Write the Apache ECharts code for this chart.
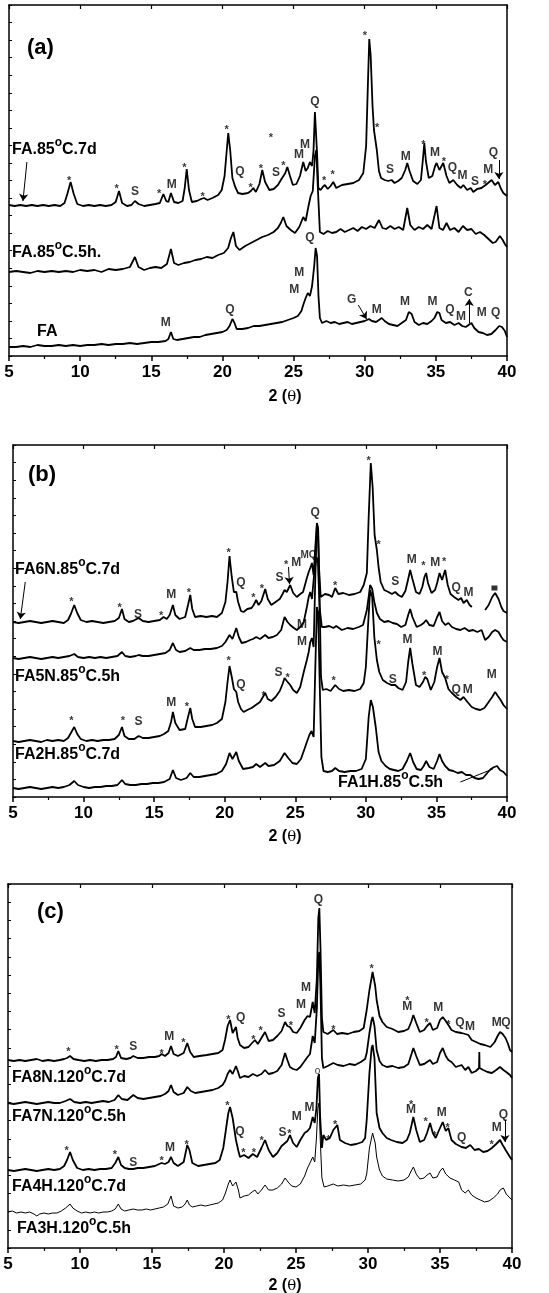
<!DOCTYPE html>
<html><head><meta charset="utf-8">
<script src="https://cdn.jsdelivr.net/npm/echarts/dist/echarts.min.js"></script>
<style>html,body{margin:0;padding:0;background:#fff}#c{width:549px;height:1293px}</style>
</head><body><div id="c"></div>
<script>
// ---------- tick labels ----------
const X_TICKS = [5,10,15,20,25,30,35,40];
const PANEL_TAGS = ['(a)','(b)','(c)'];
const X_NAME = '2 ({t|θ})';
const NAMES_A = ['FA.85{s|o}C.7d','FA.85{s|o}C.5h.','FA'];
const NAMES_B = ['FA6N.85{s|o}C.7d','FA5N.85{s|o}C.5h','FA2H.85{s|o}C.7d','FA1H.85{s|o}C.5h'];
const NAMES_C = ['FA8N.120{s|o}C.7d','FA7N.120{s|o}C.5h','FA4H.120{s|o}C.7d','FA3H.120{s|o}C.5h'];

// ---------- panel (a) ----------
const A_7d = [[5.0,151],[5.4,150],[5.8,151],[6.2,150],[6.6,151],[7.0,150],[7.4,151],[7.8,150],[8.2,151],[8.6,150],[8.9,153],[9.1,162],[9.33,174],[9.55,162],[9.8,152],[10.2,150],[10.6,151],[11.0,150],[11.4,151],[11.8,150],[12.2,151],[12.5,154],[12.73,165],[12.95,153],[13.3,150],[13.6,151],[13.85,155],[14.1,152],[14.5,150],[14.9,151],[15.3,152],[15.6,153],[15.85,162],[16.05,155],[16.2,154],[16.38,163],[16.6,154],[16.9,153],[17.2,155],[17.35,168],[17.49,187],[17.65,166],[17.85,154],[18.2,155],[18.5,157],[18.7,158],[18.95,156],[19.3,158],[19.7,161],[19.95,166],[20.15,180],[20.3,205],[20.41,223],[20.55,205],[20.7,178],[20.77,176],[20.9,169],[21.1,163],[21.4,162],[21.8,163],[22.0,165],[22.17,168],[22.35,164],[22.6,172],[22.8,186],[23.0,174],[23.3,166],[23.6,167],[23.9,171],[24.15,177],[24.28,179],[24.42,183],[24.56,189],[24.75,180],[24.95,171],[25.2,172],[25.45,180],[25.68,194],[25.85,185],[26.0,188],[26.15,194],[26.3,190],[26.4,205],[26.5,244],[26.58,242],[26.66,200],[26.74,168],[26.9,166],[27.05,169],[27.2,171],[27.4,167],[27.6,170],[27.79,174],[28.0,168],[28.4,171],[28.8,172],[29.2,173],[29.6,176],[29.9,183],[30.1,210],[30.22,270],[30.32,317],[30.42,300],[30.55,250],[30.65,226],[30.72,224],[30.85,206],[31.0,185],[31.15,178],[31.4,176],[31.65,175],[31.89,176],[32.1,173],[32.35,175],[32.6,178],[32.85,186],[32.99,193],[33.15,185],[33.4,175],[33.7,172],[33.95,176],[34.08,195],[34.19,213],[34.3,195],[34.5,178],[34.75,180],[34.95,190],[35.05,193],[35.25,186],[35.52,193],[35.75,180],[35.95,173],[36.22,176],[36.5,171],[36.75,168],[36.93,171],[37.2,166],[37.45,168],[37.63,164],[37.9,167],[38.2,168],[38.5,171],[38.75,174],[38.92,176],[39.15,171],[39.39,174],[39.55,168],[39.74,163],[40.0,160]];
const A_5h = [[5.0,84],[5.5,85],[6.0,84],[6.5,83],[7.0,85],[7.5,84],[8.0,85],[8.5,84],[9.0,85],[9.5,84],[10.0,86],[10.5,85],[11.0,86],[11.5,84],[12.0,87],[12.5,86],[13.0,87],[13.5,89],[13.85,99],[14.1,89],[14.5,86],[14.9,88],[15.3,89],[15.7,88],[16.1,92],[16.38,107],[16.6,93],[16.9,91],[17.3,93],[17.7,94],[18.1,96],[18.5,97],[18.9,99],[19.3,98],[19.7,101],[20.1,103],[20.4,108],[20.6,118],[20.77,124],[20.95,110],[21.2,106],[21.6,110],[22.0,113],[22.4,116],[22.8,119],[23.2,121],[23.6,124],[23.9,128],[24.1,133],[24.28,139],[24.5,130],[24.8,126],[25.1,123],[25.4,129],[25.68,139],[25.85,135],[26.05,150],[26.2,160],[26.35,165],[26.5,200],[26.6,206],[26.7,170],[26.85,124],[27.1,122],[27.4,125],[27.7,123],[28.0,124],[28.3,127],[28.6,124],[28.9,126],[29.2,128],[29.5,125],[29.8,129],[30.1,127],[30.4,130],[30.7,128],[31.0,136],[31.25,128],[31.5,127],[31.8,130],[32.1,127],[32.4,129],[32.7,126],[32.99,148],[33.2,131],[33.5,126],[33.8,129],[34.1,127],[34.4,131],[34.7,127],[35.05,150],[35.25,128],[35.5,126],[35.75,133],[36.0,126],[36.3,128],[36.6,124],[36.9,130],[37.2,126],[37.5,127],[37.8,122],[38.1,124],[38.4,121],[38.7,117],[39.0,113],[39.2,114],[39.5,120],[39.7,116],[39.85,112],[40.0,109]];
const A_FA = [[5.0,9],[5.5,9],[6.0,10],[6.5,9],[7.0,11],[7.5,10],[8.0,10],[8.5,11],[9.0,10],[9.5,11],[10.0,10],[10.5,11],[11.0,11],[11.5,12],[12.0,11],[12.5,12],[13.0,12],[13.5,13],[14.0,12],[14.5,13],[15.0,14],[15.5,14],[16.0,15],[16.2,17],[16.38,24],[16.55,17],[16.8,16],[17.2,17],[17.6,18],[18.0,19],[18.4,19],[18.8,21],[19.2,22],[19.6,23],[20.0,24],[20.3,26],[20.5,30],[20.7,37],[20.85,33],[21.0,27],[21.4,27],[21.8,28],[22.2,30],[22.6,30],[23.0,31],[23.4,32],[23.8,33],[24.2,34],[24.6,36],[25.0,38],[25.3,40],[25.55,45],[25.7,52],[25.85,58],[26.0,63],[26.15,60],[26.3,70],[26.45,90],[26.55,108],[26.65,100],[26.75,60],[26.85,38],[27.0,33],[27.3,35],[27.6,33],[27.9,34],[28.2,32],[28.5,33],[28.8,34],[29.1,32],[29.4,33],[29.7,34],[30.0,35],[30.3,37],[30.5,35],[30.8,34],[31.0,36],[31.2,38],[31.4,35],[31.7,32],[32.0,31],[32.3,30],[32.6,33],[32.9,36],[33.1,44],[33.3,42],[33.5,34],[33.8,31],[34.1,33],[34.4,32],[34.7,35],[34.9,38],[35.1,44],[35.25,43],[35.4,36],[35.7,33],[36.0,34],[36.3,31],[36.6,33],[36.85,30],[37.1,29],[37.3,31],[37.5,33],[37.7,28],[38.0,24],[38.3,23],[38.6,21],[38.9,22],[39.2,26],[39.45,30],[39.65,29],[39.85,25],[40.0,19]];
const A_NOTES = [[9.22,178,'*'],[12.57,170,'*'],[13.85,164,'S'],[15.56,165,'*'],[16.43,171,'M'],[17.32,191,'*'],[18.61,162,'*'],[20.3,229,'*'],[21.23,184,'Q'],[23.41,221,'*'],[21.98,171,'*'],[22.71,190,'*'],[23.76,183,'S'],[24.28,193,'*'],[25.38,201,'M'],[25.8,211,'M'],[26.5,254,'Q'],[30.02,323,'*'],[30.88,231,'*'],[27.14,178,'*'],[27.75,184,'*'],[31.77,186,'S'],[32.88,199,'M'],[34.12,214,'*'],[34.94,203,'M'],[35.57,197,'*'],[36.16,188,'Q'],[36.88,180,'M'],[37.75,174,'S'],[38.45,174,'*'],[38.68,186,'M'],[39.04,203,'Q'],
  [16.01,33,'M'],[20.53,46,'Q'],[26.15,118,'Q'],[25.05,66,'M'],[25.4,83,'M'],[29.08,56,'G'],[30.84,46,'M'],[32.83,54,'M'],[34.77,54,'M'],[35.99,46,'Q'],[36.76,39,'M'],[37.28,63,'C'],[38.22,43,'M'],[39.2,43,'Q']];
const A_ARROWS = [[6.26,194,5.98,155],[39.43,196,39.43,177],[29.55,51,30.13,37],[37.35,33,37.35,57]];

// ---------- panel (b) ----------
const B_6N = [[5.0,175],[5.4,174],[5.8,175],[6.2,176],[6.6,175],[7.0,174],[7.4,175],[7.8,176],[8.2,175],[8.6,174],[8.9,177],[9.1,183],[9.34,192],[9.55,184],[9.8,177],[10.2,175],[10.6,176],[11.0,175],[11.4,174],[11.8,175],[12.2,176],[12.5,179],[12.72,188],[12.9,178],[13.2,175],[13.5,176],[13.9,179],[14.2,176],[14.6,175],[15.0,176],[15.4,177],[15.67,180],[15.9,178],[16.1,182],[16.33,192],[16.5,182],[16.8,178],[17.2,180],[17.4,192],[17.56,202],[17.7,188],[17.9,180],[18.3,181],[18.7,180],[19.1,181],[19.45,180],[19.8,184],[20.05,195],[20.2,215],[20.34,241],[20.5,220],[20.65,205],[20.82,205],[20.95,195],[21.15,186],[21.34,185],[21.6,188],[21.9,189],[22.05,192],[22.23,197],[22.4,192],[22.6,196],[22.87,208],[23.05,198],[23.3,192],[23.6,195],[23.9,198],[24.1,203],[24.24,207],[24.4,205],[24.64,212],[24.85,204],[25.11,200],[25.35,203],[25.55,205],[25.82,219],[25.95,225],[26.06,229],[26.18,234],[26.3,222],[26.42,250],[26.53,274],[26.6,270],[26.68,230],[26.8,200],[26.88,200],[27.1,203],[27.4,202],[27.6,200],[27.83,209],[28.05,203],[28.4,204],[28.8,202],[29.2,203],[29.6,205],[29.85,212],[30.07,224],[30.2,280],[30.35,334],[30.48,310],[30.62,262],[30.78,247],[30.9,230],[31.05,215],[31.3,207],[31.6,205],[31.85,203],[32.08,205],[32.3,202],[32.55,200],[32.8,206],[33.0,218],[33.14,227],[33.3,218],[33.55,205],[33.8,203],[34.0,210],[34.15,220],[34.27,224],[34.4,214],[34.65,204],[34.9,207],[35.05,214],[35.22,224],[35.4,217],[35.62,227],[35.8,212],[36.0,203],[36.25,200],[36.56,197],[36.75,199],[36.92,194],[37.15,197],[37.35,192],[37.51,190],[37.9,'-'],[38.45,187],[38.7,192],[38.95,200],[39.16,204],[39.4,198],[39.6,190],[39.75,186],[40.0,184]];
const B_5N = [[5.0,139],[5.4,138],[5.8,139],[6.2,140],[6.6,139],[7.0,138],[7.4,139],[7.8,140],[8.2,139],[8.6,140],[9.0,141],[9.34,143],[9.6,140],[10.0,139],[10.4,140],[10.8,139],[11.2,140],[11.6,139],[12.0,140],[12.4,141],[12.72,145],[12.95,141],[13.3,140],[13.7,141],[13.9,142],[14.2,141],[14.6,141],[15.0,142],[15.4,143],[15.8,144],[16.1,147],[16.33,154],[16.55,147],[16.8,145],[17.2,146],[17.56,149],[17.8,147],[18.2,147],[18.6,148],[19.0,148],[19.45,149],[19.8,151],[20.05,155],[20.34,162],[20.55,158],[20.82,169],[21.0,160],[21.2,154],[21.5,155],[21.8,157],[22.0,158],[22.23,160],[22.5,158],[22.87,162],[23.1,159],[23.4,160],[23.7,162],[24.0,167],[24.24,180],[24.45,175],[24.64,172],[24.9,169],[25.11,167],[25.35,170],[25.6,175],[25.82,190],[25.95,200],[26.06,205],[26.18,198],[26.35,225],[26.5,240],[26.6,236],[26.72,190],[26.88,170],[27.1,170],[27.4,171],[27.7,169],[27.9,171],[28.3,167],[28.7,169],[29.1,168],[29.5,170],[29.8,172],[30.07,187],[30.2,200],[30.3,212],[30.45,208],[30.6,195],[30.78,184],[31.0,178],[31.3,175],[31.6,176],[31.9,174],[32.2,173],[32.5,170],[32.8,172],[33.0,182],[33.14,188],[33.3,180],[33.6,170],[33.9,172],[34.1,174],[34.27,177],[34.5,172],[34.8,171],[35.05,180],[35.22,185],[35.4,176],[35.62,172],[35.85,174],[36.1,170],[36.4,168],[36.7,167],[37.0,169],[37.3,166],[37.6,167],[37.9,165],[38.2,167],[38.45,157],[38.7,160],[38.95,165],[39.16,167],[39.4,165],[39.6,160],[39.75,157],[40.0,155]];
const B_2H = [[5.0,56],[5.4,55],[5.8,56],[6.2,57],[6.6,56],[7.0,55],[7.4,57],[7.8,56],[8.2,57],[8.6,56],[8.9,59],[9.1,64],[9.34,70],[9.55,63],[9.8,58],[10.2,56],[10.6,57],[11.0,56],[11.4,57],[11.8,57],[12.2,58],[12.5,62],[12.72,70],[12.9,61],[13.2,58],[13.6,58],[13.9,61],[14.2,59],[14.6,59],[15.0,60],[15.4,61],[15.7,63],[16.0,66],[16.2,75],[16.33,85],[16.5,74],[16.8,67],[17.2,68],[17.4,80],[17.56,89],[17.7,78],[17.9,70],[18.3,70],[18.7,71],[19.1,72],[19.45,74],[19.8,78],[20.05,95],[20.2,115],[20.34,131],[20.5,120],[20.65,108],[20.82,105],[20.95,95],[21.15,88],[21.34,85],[21.6,87],[21.9,89],[22.2,92],[22.5,95],[22.87,104],[23.05,98],[23.3,96],[23.6,100],[23.9,106],[24.1,113],[24.24,119],[24.4,116],[24.64,112],[24.85,107],[25.11,104],[25.35,110],[25.6,125],[25.82,137],[25.95,145],[26.06,155],[26.18,159],[26.3,150],[26.42,220],[26.53,272],[26.62,268],[26.72,200],[26.82,120],[26.95,107],[27.2,108],[27.5,106],[27.83,112],[28.1,108],[28.4,106],[28.8,107],[29.2,106],[29.6,108],[29.85,114],[30.0,130],[30.15,170],[30.3,207],[30.45,200],[30.6,160],[30.78,137],[30.95,125],[31.2,117],[31.5,114],[31.8,112],[32.08,112],[32.3,109],[32.6,107],[32.85,115],[33.0,135],[33.14,149],[33.3,133],[33.55,112],[33.8,110],[34.05,115],[34.2,120],[34.35,118],[34.6,107],[34.85,115],[35.05,130],[35.22,139],[35.4,125],[35.62,119],[35.85,108],[36.1,104],[36.4,100],[36.7,97],[36.92,100],[37.2,95],[37.5,90],[37.8,88],[38.1,87],[38.4,89],[38.7,95],[38.95,100],[39.16,105],[39.35,101],[39.55,97],[39.75,92],[40.0,88]];
const B_1H = [[5.0,9],[5.4,8],[5.8,9],[6.2,10],[6.6,9],[7.0,8],[7.4,9],[7.8,10],[8.2,9],[8.6,10],[9.0,12],[9.34,16],[9.6,12],[10.0,10],[10.4,9],[10.8,10],[11.2,10],[11.6,11],[12.0,11],[12.4,12],[12.72,17],[12.95,13],[13.3,12],[13.7,12],[14.1,13],[14.5,13],[14.9,14],[15.3,14],[15.7,15],[16.1,18],[16.33,27],[16.55,19],[16.9,17],[17.3,19],[17.56,24],[17.8,20],[18.2,20],[18.6,21],[19.0,22],[19.4,23],[19.8,26],[20.1,33],[20.34,44],[20.55,38],[20.82,45],[21.0,36],[21.3,28],[21.7,29],[22.0,30],[22.23,33],[22.5,30],[22.87,34],[23.1,31],[23.5,32],[23.9,36],[24.24,44],[24.5,39],[24.8,34],[25.11,33],[25.4,38],[25.65,48],[25.82,55],[26.0,62],[26.15,66],[26.3,60],[26.42,130],[26.53,190],[26.62,185],[26.72,120],[26.85,40],[27.0,26],[27.3,25],[27.6,26],[27.83,29],[28.1,26],[28.5,25],[28.9,26],[29.3,26],[29.7,28],[30.0,38],[30.2,80],[30.35,97],[30.5,90],[30.7,70],[30.9,45],[31.1,36],[31.4,31],[31.7,28],[32.0,27],[32.3,26],[32.6,28],[32.9,36],[33.14,44],[33.35,35],[33.6,28],[33.9,27],[34.1,31],[34.27,36],[34.5,30],[34.8,28],[35.05,36],[35.22,43],[35.4,36],[35.62,31],[35.9,27],[36.2,26],[36.5,24],[36.8,25],[37.1,22],[37.4,22],[37.7,19],[38.0,18],[38.3,19],[38.6,24],[38.85,28],[39.1,30],[39.3,31],[39.5,27],[39.75,25],[40.0,21]];
const B_NOTES = [[9.13,198,'*'],[12.55,192,'*'],[13.85,182,'S'],[15.5,184,'*'],[16.21,202,'M'],[17.46,207,'*'],[20.27,247,'*'],[21.15,214,'Q'],[22.04,202,'*'],[22.63,211,'*'],[23.89,219,'S'],[24.36,235,'*'],[25.07,234,'M'],[25.94,242,'MQ'],[26.41,284,'Q'],[30.19,339,'*'],[30.9,255,'*'],[27.83,214,'*'],[32.08,215,'S'],[33.26,237,'M'],[34.08,234,'*'],[34.91,234,'M'],[35.55,238,'*'],[36.4,209,'Q'],[37.27,204,'M'],
  [25.47,172,'M'],
  [9.13,79,'*'],[12.79,79,'*'],[13.9,75,'S'],[16.21,94,'M'],[17.32,93,'*'],[20.27,139,'*'],[21.15,112,'Q'],[22.75,104,'*'],[23.81,124,'S'],[24.45,122,'*'],[25.47,155,'M'],[27.71,119,'*'],[30.9,155,'*'],[31.91,117,'S'],[32.95,157,'M'],[34.13,124,'*'],[35.08,145,'M'],[35.74,120,'*'],[36.4,107,'Q'],[37.22,107,'M'],[38.92,122,'M']];
const B_ARROWS = [[5.87,215,5.52,178],[24.52,230,24.59,213]];
const B_POINTER = [[36.7,15,39.0,28]];
const B_SQUARE = [[39.11,209]];

// ---------- panel (c) ----------
const C_8N = [[5.0,188],[5.4,187],[5.8,188],[6.2,187],[6.6,188],[7.0,189],[7.4,187],[7.8,188],[8.2,187],[8.6,188],[8.9,189],[9.1,190],[9.31,192],[9.55,189],[9.9,188],[10.3,187],[10.7,188],[11.1,187],[11.5,188],[11.9,188],[12.3,189],[12.5,191],[12.66,197],[12.85,190],[13.2,189],[13.5,190],[13.7,192],[14.0,190],[14.4,190],[14.8,191],[15.2,191],[15.5,192],[15.67,194],[15.9,192],[16.15,195],[16.32,202],[16.5,194],[16.8,192],[17.2,195],[17.45,205],[17.65,196],[17.9,191],[18.3,192],[18.8,193],[19.2,194],[19.6,195],[19.9,198],[20.07,208],[20.25,222],[20.42,228],[20.6,215],[20.83,221],[20.95,210],[21.11,203],[21.4,200],[21.7,201],[21.95,205],[22.15,208],[22.35,204],[22.6,210],[22.85,216],[23.1,207],[23.4,208],[23.7,212],[24.0,217],[24.24,226],[24.4,222],[24.58,221],[24.8,216],[25.05,215],[25.3,220],[25.6,228],[25.8,232],[25.97,231],[26.16,246],[26.3,235],[26.45,270],[26.55,330],[26.62,340],[26.7,300],[26.8,230],[26.9,216],[27.2,214],[27.59,218],[27.85,214],[28.2,215],[28.6,214],[29.0,216],[29.4,217],[29.7,220],[29.91,238],[30.1,258],[30.32,276],[30.5,262],[30.6,248],[30.8,232],[31.0,226],[31.3,221],[31.7,219],[32.1,216],[32.5,217],[32.8,219],[33.0,226],[33.15,233],[33.35,225],[33.6,216],[33.9,218],[34.1,222],[34.31,225],[34.5,218],[34.8,220],[35.0,228],[35.19,231],[35.4,227],[35.58,223],[35.8,218],[36.1,216],[36.5,215],[36.75,214],[36.97,213],[37.2,208],[37.5,206],[37.8,204],[38.1,203],[38.5,201],[38.8,206],[39.0,212],[39.17,216],[39.35,214],[39.55,210],[39.7,205],[39.86,198],[40.0,196]];
const C_7N = [[5.0,145],[5.4,144],[5.8,145],[6.2,146],[6.6,145],[7.0,144],[7.4,145],[7.8,146],[8.2,145],[8.6,145],[9.0,147],[9.31,149],[9.6,146],[10.0,145],[10.4,146],[10.8,145],[11.2,146],[11.6,147],[12.0,146],[12.4,148],[12.66,153],[12.9,149],[13.3,148],[13.7,153],[14.0,150],[14.4,149],[14.8,150],[15.2,151],[15.6,152],[15.9,154],[16.15,157],[16.32,163],[16.5,156],[16.8,153],[17.2,155],[17.45,161],[17.7,157],[18.0,155],[18.4,156],[18.8,157],[19.2,158],[19.6,160],[19.9,163],[20.07,167],[20.25,174],[20.42,178],[20.6,174],[20.83,182],[20.98,176],[21.11,170],[21.4,172],[21.7,171],[22.0,174],[22.3,172],[22.6,174],[22.85,178],[23.1,174],[23.4,175],[23.7,177],[24.0,183],[24.24,195],[24.4,188],[24.58,181],[24.8,179],[25.05,178],[25.3,181],[25.6,187],[25.8,191],[25.97,194],[26.16,212],[26.3,205],[26.45,240],[26.55,290],[26.62,296],[26.7,260],[26.8,190],[26.9,180],[27.2,182],[27.59,185],[27.9,183],[28.3,182],[28.7,184],[29.1,183],[29.5,186],[29.8,189],[29.91,195],[30.1,215],[30.25,228],[30.32,231],[30.45,222],[30.6,198],[30.8,187],[31.0,183],[31.3,181],[31.7,182],[32.1,180],[32.5,181],[32.8,184],[33.0,193],[33.15,200],[33.35,192],[33.6,183],[33.9,184],[34.1,186],[34.31,188],[34.5,184],[34.8,186],[35.0,195],[35.19,200],[35.4,192],[35.58,188],[35.8,186],[36.1,181],[36.5,183],[36.75,178],[36.97,181],[37.2,175],[37.5,177],[37.71,180],[37.73,196],[37.75,180],[38.0,178],[38.3,176],[38.6,175],[38.9,178],[39.17,181],[39.4,178],[39.6,176],[39.86,173],[40.0,170]];
const C_4H = [[5.0,78],[5.4,77],[5.8,78],[6.2,79],[6.6,78],[7.0,77],[7.4,78],[7.8,79],[8.2,78],[8.6,79],[8.9,82],[9.1,88],[9.31,96],[9.5,88],[9.8,80],[10.2,78],[10.6,79],[11.0,78],[11.4,79],[11.8,79],[12.2,80],[12.45,85],[12.66,91],[12.85,83],[13.1,80],[13.4,79],[13.7,79],[14.0,80],[14.4,80],[14.8,81],[15.2,82],[15.5,84],[15.67,85],[15.9,84],[16.15,86],[16.32,91],[16.5,85],[16.8,82],[17.2,86],[17.45,103],[17.6,98],[17.8,85],[18.2,82],[18.6,83],[19.0,84],[19.4,85],[19.7,88],[19.95,100],[20.15,120],[20.3,135],[20.42,141],[20.6,130],[20.83,108],[21.0,97],[21.11,91],[21.4,93],[21.7,90],[22.0,94],[22.3,91],[22.6,100],[22.85,108],[23.1,98],[23.4,91],[23.7,95],[24.0,102],[24.24,105],[24.4,107],[24.58,113],[24.8,105],[25.05,101],[25.3,108],[25.6,115],[25.8,117],[25.97,120],[26.16,131],[26.3,125],[26.42,140],[26.52,170],[26.6,174],[26.68,130],[26.8,100],[26.9,113],[27.1,108],[27.35,110],[27.59,118],[27.87,123],[28.05,108],[28.4,105],[28.8,103],[29.2,104],[29.6,106],[29.8,110],[29.91,128],[30.1,175],[30.25,200],[30.32,203],[30.45,190],[30.6,135],[30.8,120],[31.0,115],[31.3,110],[31.6,108],[32.0,106],[32.4,105],[32.7,108],[32.9,115],[33.15,131],[33.35,118],[33.6,106],[33.9,108],[34.1,115],[34.31,125],[34.5,115],[34.7,110],[35.0,120],[35.19,126],[35.4,117],[35.58,120],[35.8,108],[36.1,104],[36.5,101],[36.8,100],[37.1,103],[37.4,98],[37.7,99],[38.0,96],[38.3,97],[38.6,100],[38.9,104],[39.17,108],[39.35,103],[39.6,97],[39.86,91],[40.0,88]];
const C_3H = [[5.0,36],[5.3,37],[5.6,35],[5.9,36],[6.2,35],[6.5,36],[6.8,34],[7.0,32],[7.2,34],[7.5,35],[7.8,34],[8.1,35],[8.4,35],[8.7,37],[9.0,40],[9.31,44],[9.5,40],[9.8,37],[10.1,35],[10.4,36],[10.7,35],[11.0,36],[11.3,35],[11.6,36],[11.9,36],[12.2,37],[12.45,39],[12.66,44],[12.85,39],[13.1,37],[13.4,38],[13.7,39],[14.0,38],[14.3,38],[14.6,39],[14.9,38],[15.2,39],[15.5,40],[15.8,41],[16.1,44],[16.32,52],[16.5,42],[16.8,40],[17.1,41],[17.3,44],[17.45,48],[17.6,43],[17.8,41],[18.1,42],[18.4,43],[18.7,42],[19.0,43],[19.3,44],[19.6,45],[19.9,48],[20.1,55],[20.3,64],[20.42,68],[20.6,62],[20.83,66],[21.0,58],[21.11,50],[21.4,52],[21.7,53],[21.95,56],[22.15,58],[22.35,54],[22.6,58],[22.85,63],[23.1,58],[23.4,58],[23.7,60],[24.0,64],[24.24,70],[24.45,66],[24.7,62],[25.0,61],[25.3,64],[25.6,72],[25.8,80],[25.97,85],[26.16,91],[26.3,86],[26.42,110],[26.52,140],[26.6,145],[26.68,110],[26.8,70],[26.95,61],[27.2,62],[27.59,64],[27.9,62],[28.3,63],[28.7,62],[29.1,63],[29.5,64],[29.8,68],[29.91,74],[30.1,100],[30.32,115],[30.5,105],[30.6,91],[30.8,78],[31.0,72],[31.3,69],[31.7,68],[32.1,67],[32.5,68],[32.8,71],[33.0,77],[33.15,81],[33.35,74],[33.6,69],[33.9,70],[34.1,73],[34.31,75],[34.5,70],[34.8,71],[35.0,77],[35.19,80],[35.4,74],[35.7,70],[36.0,68],[36.3,66],[36.5,58],[36.75,55],[36.97,58],[37.2,53],[37.5,50],[37.8,48],[38.1,46],[38.4,47],[38.7,50],[39.0,54],[39.17,58],[39.4,60],[39.6,54],[39.86,50],[40.0,48]];
const C_NOTES = [[9.19,199,'*'],[12.55,201,'*'],[13.7,201,'S'],[15.67,197,'*'],[16.2,211,'M'],[17.18,208,'*'],[20.3,231,'*'],[21.16,230,'Q'],[22.04,211,'*'],[22.55,220,'*'],[24.0,234,'S'],[24.65,225,'*'],[25.35,243,'M'],[25.69,260,'M'],[26.55,348,'Q'],[27.59,221,'*'],[30.25,282,'*'],[32.73,250,'*'],[32.73,241,'M'],[34.07,228,'*'],[34.88,240,'M'],[35.58,226,'*'],[36.39,225,'Q'],[37.08,221,'M'],[38.94,225,'M'],[39.58,225,'Q'],
  [26.5,177,'o'],
  [9.07,100,'*'],[12.43,96,'*'],[13.7,85,'S'],[15.67,90,'*'],[16.25,100,'M'],[17.41,106,'*'],[20.23,145,'*'],[21.11,116,'Q'],[21.34,98,'*'],[22.08,98,'*'],[22.62,110,'*'],[24.07,115,'S'],[24.54,117,'*'],[25.05,131,'M'],[25.93,140,'M'],[27.25,111,'*'],[27.71,126,'*'],[32.99,146,'*'],[32.99,138,'M'],[34.0,129,'*'],[34.61,115,'*'],[35.12,135,'M'],[35.53,123,'*'],[36.5,110,'Q'],[38.59,106,'*'],[38.94,120,'M'],[39.4,133,'Q']];
const C_ARROWS = [[39.51,128,39.51,106]];

// ---------- build ----------
const FONT = 'Liberation Sans, Arial, sans-serif';
const GRIDS = [
  {left:9, top:5, width:498, height:351, ymax:351},
  {left:13, top:445, width:494, height:352, ymax:352},
  {left:8, top:884, width:504, height:364, ymax:364}
];
const PANELS = [
  {lines:[A_7d,A_5h,A_FA], widths:[1.8,1.8,1.8], notes:A_NOTES, arrows:A_ARROWS, names:NAMES_A,
   namePos:[[12,150,16],[12,253,16],[37,332,16]], tagPos:[27,48], xnamePos:[285,397]},
  {lines:[B_6N,B_5N,B_2H,B_1H], widths:[1.8,1.8,1.8,1.8], notes:B_NOTES, arrows:B_ARROWS, names:NAMES_B,
   namePos:[[15,570,16],[15,677,16],[15,755,16],[338,783,16]], tagPos:[28,475], xnamePos:[285,837]},
  {lines:[C_8N,C_7N,C_4H,C_3H], widths:[1.8,1.8,1.8,1.0], notes:C_NOTES, arrows:C_ARROWS, names:NAMES_C,
   namePos:[[12,1078,16],[12,1117,16],[12,1187,16],[17,1229,16]], tagPos:[37,912], xnamePos:[285,1286]}
];

const grid=[], xAxis=[], yAxis=[], series=[], graphic=[];
const axLine = {show:true, onZero:false, lineStyle:{color:'#000', width:1.5}};
PANELS.forEach((p,i)=>{
  const g = GRIDS[i];
  grid.push({left:g.left, top:g.top, width:g.width, height:g.height, containLabel:false});
  xAxis.push({type:'value', gridIndex:i, position:'bottom', min:5, max:40, interval:5,
    axisLine:axLine, axisTick:{show:true, inside:false, length:5, lineStyle:{color:'#000', width:1.5}},
    minorTick:{show:true, splitNumber:2, length:3, lineStyle:{color:'#000', width:1.2}},
    axisLabel:{show:true, margin:8, color:'#000', fontFamily:FONT, fontWeight:'bold', fontSize:17,
      formatter:v=>X_TICKS.indexOf(v)>=0?String(v):''},
    splitLine:{show:false}, minorSplitLine:{show:false}});
  xAxis.push({type:'value', gridIndex:i, position:'top', min:5, max:40, interval:5,
    axisLine:axLine, axisTick:{show:true, inside:true, length:4, lineStyle:{color:'#000', width:1.2}},
    axisLabel:{show:false}, splitLine:{show:false}});
  yAxis.push({type:'value', gridIndex:i, position:'left', min:0, max:g.ymax, interval:g.ymax/20,
    axisLine:axLine, axisTick:{show:true, inside:true, length:3, lineStyle:{color:'#000', width:1}},
    axisLabel:{show:false}, splitLine:{show:false}});
  yAxis.push({type:'value', gridIndex:i, position:'right', min:0, max:g.ymax,
    axisLine:axLine, axisTick:{show:false}, axisLabel:{show:false}, splitLine:{show:false}});
  p.lines.forEach((d,k)=>{
    series.push({type:'line', xAxisIndex:2*i, yAxisIndex:2*i, data:d, symbol:'none', showSymbol:false,
      connectNulls:false, lineStyle:{color:'#000', width:p.widths[k]}, silent:true, animation:false, z:3});
  });
  const mlData = p.arrows.map(a=>[{coord:[a[0],a[1]]},{coord:[a[2],a[3]]}]);
  series.push({type:'scatter', xAxisIndex:2*i, yAxisIndex:2*i, symbolSize:1, itemStyle:{color:'rgba(0,0,0,0)'},
    silent:true, animation:false, z:5,
    data:p.notes.map(n=>({value:[n[0],n[1]], name:n[2],
      label:{fontSize: n[2]==='*'?11:(n[2]==='o'?10:(n[2]==='MQ'?10:12)), offset: n[2]==='*'?[0,3]:[0,0],
        fontWeight: n[2]==='o'?'normal':'bold'}})),
    label:{show:true, position:'inside', formatter:'{b}', color:'#000', fontFamily:FONT, fontWeight:'bold'},
    markLine:{silent:true, animation:false, symbol:['none','arrow'], symbolSize:7, precision:4,
      lineStyle:{color:'#000', width:1, type:'solid'}, label:{show:false}, emphasis:{disabled:true}, data:mlData}
  });
  graphic.push({type:'text', x:p.tagPos[0], y:p.tagPos[1], silent:true,
    style:{text:PANEL_TAGS[i], fill:'#000', font:'bold 22px '+FONT, align:'left', verticalAlign:'middle'}});
  p.names.forEach((nm,k)=>{
    const pos = p.namePos[k];
    graphic.push({type:'text', x:pos[0], y:pos[1], silent:true,
      style:{text:nm, fill:'#000', fontFamily:FONT, fontWeight:'bold', fontSize:pos[2], lineHeight:26,
        align:'left', verticalAlign:'middle',
        rich:{s:{fontSize:12, fontWeight:'bold', fontFamily:FONT, fill:'#000', verticalAlign:'top', lineHeight:12}}}});
  });
  graphic.push({type:'text', x:p.xnamePos[0], y:p.xnamePos[1], silent:true,
    style:{text:X_NAME, fill:'#000', fontFamily:FONT, fontWeight:'bold', fontSize:16, align:'center', verticalAlign:'middle',
      rich:{t:{fontFamily:'DejaVu Serif, serif', fontWeight:'normal', fontSize:15, fill:'#000'}}}});
});
// panel (b) extras: pointer line for FA1H label and the square marker
series.push({type:'scatter', xAxisIndex:2, yAxisIndex:2, data:B_SQUARE, symbol:'rect', symbolSize:[6,5],
  itemStyle:{color:'#000'}, silent:true, animation:false, z:5,
  markLine:{silent:true, animation:false, symbol:['none','none'], lineStyle:{color:'#000', width:1, type:'solid'},
    label:{show:false}, emphasis:{disabled:true}, data:B_POINTER.map(a=>[{coord:[a[0],a[1]]},{coord:[a[2],a[3]]}])}});

const chart = echarts.init(document.getElementById('c'), null, {renderer:'canvas'});
chart.setOption({animation:false, backgroundColor:'#fff', grid, xAxis, yAxis, series, graphic});
</script>
</body></html>
